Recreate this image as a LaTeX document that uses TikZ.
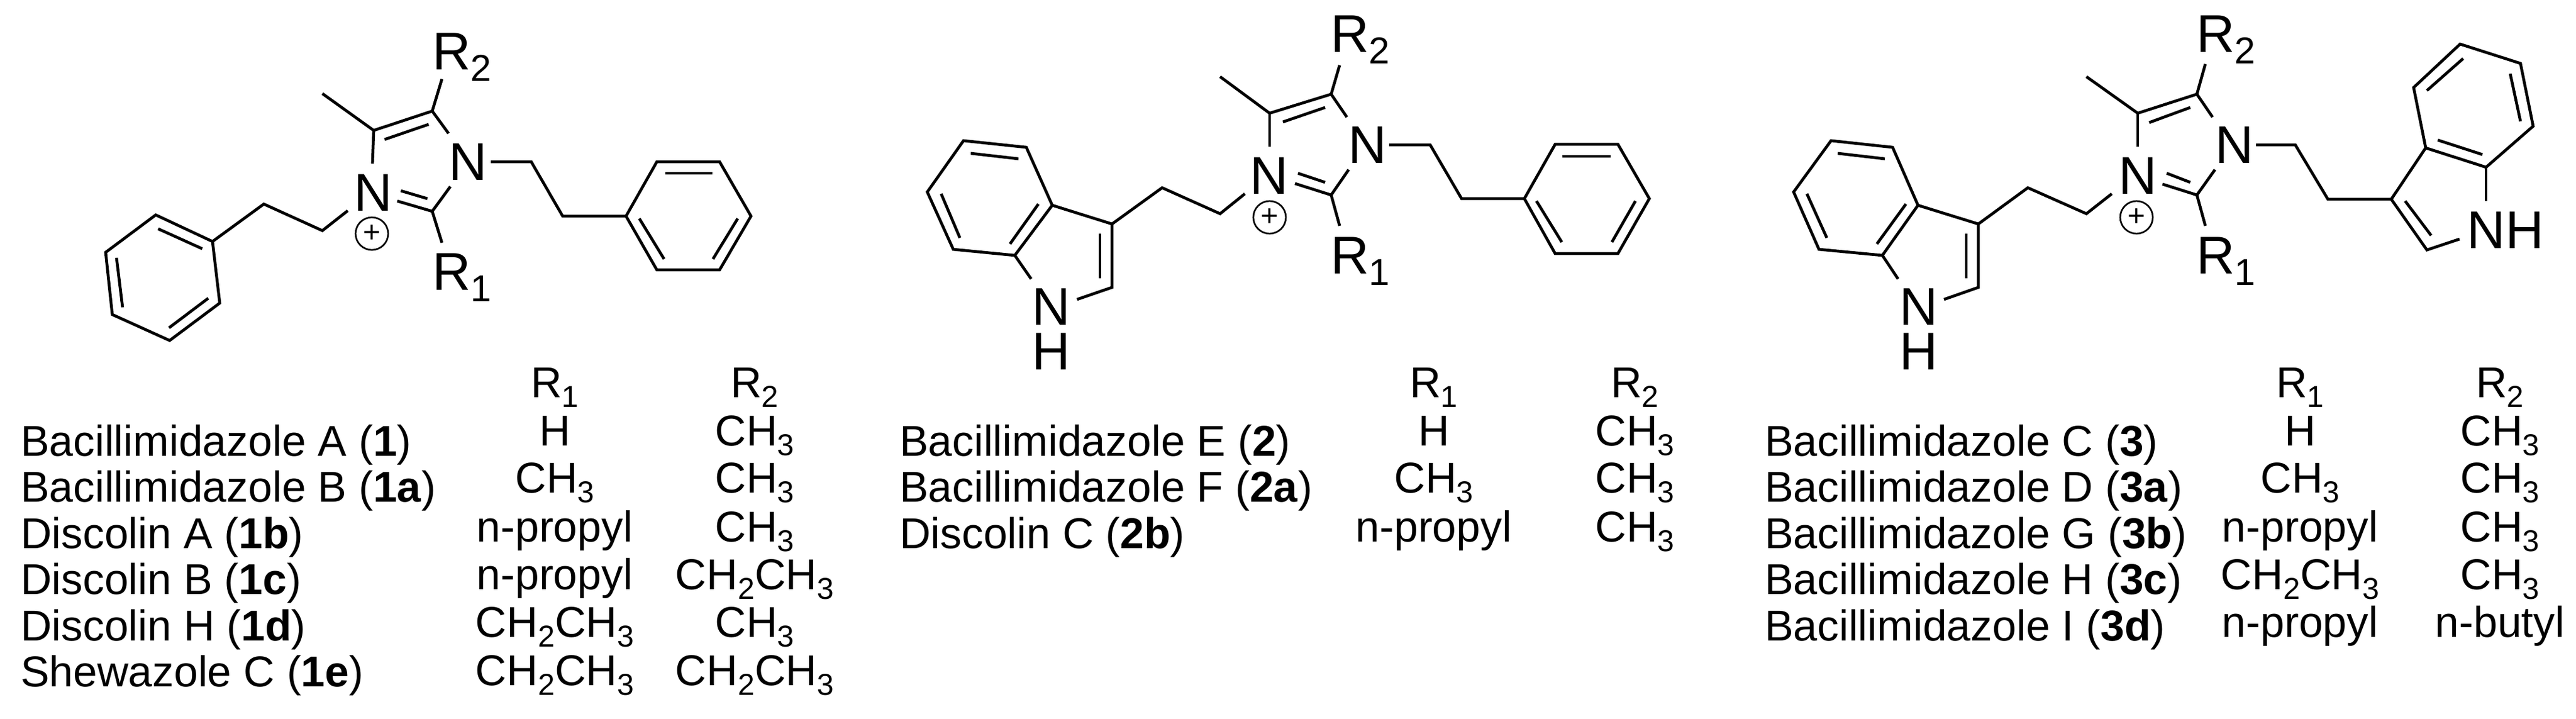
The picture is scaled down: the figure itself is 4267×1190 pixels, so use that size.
\documentclass[tikz,border=0pt]{standalone}
\usepackage{fontspec}
\setmainfont{Liberation Sans}
\newcommand{\tsub}[1]{\raisebox{-3.2pt}{\fontsize{10pt}{10pt}\selectfont #1}}
\newcommand{\lsub}[1]{\raisebox{-3.8pt}{\fontsize{12.4pt}{12.4pt}\selectfont #1}}
\newcommand{\chthree}{CH\tsub{3}}
\newcommand{\ethyl}{CH\tsub{2}CH\tsub{3}}
\tikzset{
  bond/.style={line width=0.95pt,line join=miter,line cap=butt,black},
  atom/.style={inner sep=0pt,outer sep=0pt,anchor=base,font=\fontsize{17.6pt}{17.6pt}\selectfont},
  rgroup/.style={inner sep=0pt,outer sep=0pt,anchor=base west,font=\fontsize{17.6pt}{17.6pt}\selectfont},
  charge/.style={draw,circle,line width=0.55pt,minimum size=10.8pt,inner sep=0pt,font=\fontsize{10pt}{10pt}\selectfont},
  namecell/.style={inner sep=0pt,outer sep=0pt,anchor=base west,font=\fontsize{14.3pt}{14.3pt}\selectfont},
  valcell/.style={inner sep=0pt,outer sep=0pt,anchor=base,font=\fontsize{14.3pt}{14.3pt}\selectfont},
}
\begin{document}
\begin{tikzpicture}[x=0.2pt,y=-0.2pt]
\useasboundingbox (0,0) rectangle (4267,1190);
% ===== molecule 1 =====
\node[atom] (aNa) at (775,298) {N};
\node[atom] (aNb) at (618,349) {N};
\node[charge] (aQ) at (616,387) {+};
\node[rgroup] (aRb) at (716,115) {R\lsub{2}};
\node[rgroup] (aRa) at (716,480) {R\lsub{1}};
\coordinate (aMe) at (534,155); \coordinate (aC4) at (619,216); \coordinate (aC5) at (716,184);
\coordinate (aC2) at (716,350); \coordinate (a4N) at (617,271); \coordinate (a5N) at (743,221);
\coordinate (a2N) at (746,309); \coordinate (a2P) at (658,333); \coordinate (aRbE) at (732,131);
\coordinate (aRaE) at (732,402); \coordinate (ad1) at (637,231); \coordinate (ad2) at (710,206);
\coordinate (ad3) at (664,316); \coordinate (ad4) at (708,329);
\draw[bond] (aMe)--(aC4)--(aC5)--(a5N);
\draw[bond] (aC4)--(a4N);
\draw[bond] (aC5)--(aRbE);
\draw[bond] (a2N)--(aC2)--(a2P);
\draw[bond] (aC2)--(aRaE);
\draw[bond] (ad1)--(ad2);
\draw[bond] (ad3)--(ad4);
\coordinate (aa) at (813,268); \coordinate (ab) at (880,268); \coordinate (ac) at (932,358);
\coordinate (p1) at (1037,358); \coordinate (p2) at (1088,268); \coordinate (p3) at (1192,268);
\coordinate (p4) at (1244,358); \coordinate (p5) at (1192,447); \coordinate (p6) at (1088,447);
\draw[bond] (aa)--(ab)--(ac)--(p1)--(p2)--(p3)--(p4)--(p5)--(p6)--(p1);
\coordinate (pa) at (1102,287); \coordinate (pb) at (1180,287);
\coordinate (pc) at (1059,362); \coordinate (pd) at (1100,429);
\coordinate (pe) at (1222,362); \coordinate (pf) at (1181,429);
\draw[bond] (pa)--(pb); \draw[bond] (pc)--(pd); \draw[bond] (pe)--(pf);
\coordinate (ba) at (576,349); \coordinate (bb) at (534,382); \coordinate (bc) at (437,338);
\coordinate (q1) at (352,400); \coordinate (q2) at (258,356); \coordinate (q3) at (175,418);
\coordinate (q4) at (186,521); \coordinate (q5) at (281,564); \coordinate (q6) at (364,502);
\draw[bond] (ba)--(bb)--(bc)--(q1)--(q2)--(q3)--(q4)--(q5)--(q6)--(q1);
\coordinate (qa) at (262,379); \coordinate (qb) at (335,412);
\coordinate (qc) at (193,427); \coordinate (qd) at (203,509);
\coordinate (qe) at (280,543); \coordinate (qf) at (345,494);
\draw[bond] (qa)--(qb); \draw[bond] (qc)--(qd); \draw[bond] (qe)--(qf);
% ===== molecule 2 =====
\node[atom] (cNa) at (2265,270) {N};
\node[atom] (cNb) at (2102,321) {N};
\node[charge] (cQ) at (2103,360) {+};
\node[rgroup] (cRb) at (2204,86) {R\lsub{2}};
\node[rgroup] (cRa) at (2204,453) {R\lsub{1}};
\coordinate (cMe) at (2021,127); \coordinate (cC4) at (2103,187.5); \coordinate (cC5) at (2205,156);
\coordinate (cC2) at (2205,323); \coordinate (c4N) at (2103,243); \coordinate (c5N) at (2231,194);
\coordinate (c2N) at (2234,281); \coordinate (c2P) at (2145,304); \coordinate (cRbE) at (2219,108);
\coordinate (cRaE) at (2219,374); \coordinate (cd1) at (2125,202); \coordinate (cd2) at (2195,178);
\coordinate (cd3) at (2150,287); \coordinate (cd4) at (2195,302);
\draw[bond] (cMe)--(cC4)--(cC5)--(c5N);
\draw[bond] (cC4)--(c4N);
\draw[bond] (cC5)--(cRbE);
\draw[bond] (c2N)--(cC2)--(c2P);
\draw[bond] (cC2)--(cRaE);
\draw[bond] (cd1)--(cd2);
\draw[bond] (cd3)--(cd4);
\coordinate (ca) at (2301,240); \coordinate (cb) at (2369,240); \coordinate (cc) at (2421,329);
\coordinate (r1) at (2525,329); \coordinate (r2) at (2576,239); \coordinate (r3) at (2680,239);
\coordinate (r4) at (2732,329); \coordinate (r5) at (2680,420); \coordinate (r6) at (2576,420);
\draw[bond] (ca)--(cb)--(cc)--(r1)--(r2)--(r3)--(r4)--(r5)--(r6)--(r1);
\coordinate (ra) at (2588,259); \coordinate (rb) at (2668,259);
\coordinate (rc) at (2545,333); \coordinate (rd) at (2587,401);
\coordinate (re) at (2709,333); \coordinate (rf) at (2670,401);
\draw[bond] (ra)--(rb); \draw[bond] (rc)--(rd); \draw[bond] (re)--(rf);
\node[atom] (cNi) at (1741,538) {N};
\node[atom] (cHi) at (1741,612) {H};
\coordinate (da) at (2062,321); \coordinate (db) at (2021,354); \coordinate (dc) at (1925,311);
\coordinate (s3) at (1842,371); \coordinate (s3a) at (1743,340); \coordinate (s7a) at (1681,423);
\coordinate (s2) at (1842,476); \coordinate (sN1) at (1708,462); \coordinate (sN2) at (1784,496);
\coordinate (s4) at (1700,244); \coordinate (s5) at (1596,233); \coordinate (s6) at (1536,318);
\coordinate (s7) at (1579,413);
\draw[bond] (da)--(db)--(dc)--(s3)--(s2)--(sN2);
\draw[bond] (s3)--(s3a)--(s4)--(s5)--(s6)--(s7)--(s7a)--(s3a);
\draw[bond] (s7a)--(sN1);
\coordinate (sa) at (1608,254); \coordinate (sb) at (1687,263);
\coordinate (sc) at (1559,321); \coordinate (sd) at (1590,394);
\coordinate (se) at (1720,338); \coordinate (sf) at (1673,404);
\coordinate (sg) at (1822,387); \coordinate (sh) at (1822,461);
\draw[bond] (sa)--(sb); \draw[bond] (sc)--(sd); \draw[bond] (se)--(sf); \draw[bond] (sg)--(sh);
% ===== molecule 3 =====
\node[atom] (eNa) at (3701,270) {N};
\node[atom] (eNb) at (3541,321) {N};
\node[charge] (eQ) at (3539,360) {+};
\node[rgroup] (eRb) at (3638,86) {R\lsub{2}};
\node[rgroup] (eRa) at (3638,453) {R\lsub{1}};
\coordinate (eMe) at (3456,127); \coordinate (eC4) at (3541,187.5); \coordinate (eC5) at (3639,156);
\coordinate (eC2) at (3639,323); \coordinate (e4N) at (3541,243); \coordinate (e5N) at (3665,194);
\coordinate (e2N) at (3669,281); \coordinate (e2P) at (3582,305); \coordinate (eRbE) at (3653,106);
\coordinate (eRaE) at (3653,374); \coordinate (ed1) at (3560,203); \coordinate (ed2) at (3628,178);
\coordinate (ed3) at (3589,287); \coordinate (ed4) at (3628,302);
\draw[bond] (eMe)--(eC4)--(eC5)--(e5N);
\draw[bond] (eC4)--(e4N);
\draw[bond] (eC5)--(eRbE);
\draw[bond] (e2N)--(eC2)--(e2P);
\draw[bond] (eC2)--(eRaE);
\draw[bond] (ed1)--(ed2);
\draw[bond] (ed3)--(ed4);
\node[atom] (eNH) at (4150,411) {NH};
\coordinate (ea) at (3737,240); \coordinate (eb) at (3802,240); \coordinate (ec) at (3856,330);
\coordinate (t3) at (3961,330); \coordinate (t3a) at (4018,245); \coordinate (t7a) at (4118,277);
\coordinate (t2) at (4020,414); \coordinate (tN1) at (4118,333); \coordinate (tN2) at (4074,396);
\coordinate (t4) at (3998,145); \coordinate (t5) at (4075,73); \coordinate (t6) at (4175,105);
\coordinate (t7) at (4196,209);
\draw[bond] (ea)--(eb)--(ec)--(t3)--(t2)--(tN2);
\draw[bond] (t3)--(t3a)--(t4)--(t5)--(t6)--(t7)--(t7a)--(t3a);
\draw[bond] (t7a)--(tN1);
\coordinate (ta) at (4038,232); \coordinate (tb) at (4112,256);
\coordinate (tc) at (4020,150); \coordinate (td) at (4080,97);
\coordinate (te) at (4158,122); \coordinate (tf) at (4175,201);
\coordinate (tg) at (3984,333); \coordinate (th) at (4027,390);
\draw[bond] (ta)--(tb); \draw[bond] (tc)--(td); \draw[bond] (te)--(tf); \draw[bond] (tg)--(th);
\node[atom] (eNi) at (3178,538) {N};
\node[atom] (eHi) at (3178,612) {H};
\coordinate (fa) at (3498,321); \coordinate (fb) at (3456,354); \coordinate (fc) at (3359,311);
\coordinate (u3) at (3277,371); \coordinate (u3a) at (3177,340); \coordinate (u7a) at (3118,423);
\coordinate (u2) at (3277,476); \coordinate (uN1) at (3144,462); \coordinate (uN2) at (3220,496);
\coordinate (u4) at (3135,244); \coordinate (u5) at (3033,233); \coordinate (u6) at (2971,318);
\coordinate (u7) at (3013,413);
\draw[bond] (fa)--(fb)--(fc)--(u3)--(u2)--(uN2);
\draw[bond] (u3)--(u3a)--(u4)--(u5)--(u6)--(u7)--(u7a)--(u3a);
\draw[bond] (u7a)--(uN1);
\coordinate (ua) at (3044,254); \coordinate (ub) at (3122,263);
\coordinate (uc) at (2993,321); \coordinate (ud) at (3026,394);
\coordinate (ue) at (3157,338); \coordinate (uf) at (3109,404);
\coordinate (ug) at (3257,387); \coordinate (uh) at (3257,461);
\draw[bond] (ua)--(ub); \draw[bond] (uc)--(ud); \draw[bond] (ue)--(uf); \draw[bond] (ug)--(uh);
% ===== table 1 =====
\node[namecell] (n11) at (34,755) {Bacillimidazole A (\textbf{1})};
\node[namecell] (n12) at (34,831) {Bacillimidazole B (\textbf{1a})};
\node[namecell] (n13) at (34,908) {Discolin A (\textbf{1b})};
\node[namecell] (n14) at (34,984) {Discolin B (\textbf{1c})};
\node[namecell] (n15) at (34,1061) {Discolin H (\textbf{1d})};
\node[namecell] (n16) at (34,1137) {Shewazole C (\textbf{1e})};
\node[valcell] (h11) at (919,658) {R\tsub{1}};
\node[valcell] (h12) at (1250,658) {R\tsub{2}};
\node[valcell] (v11) at (919,738) {H};
\node[valcell] (w11) at (1250,738) {\chthree};
\node[valcell] (v12) at (919,816) {\chthree};
\node[valcell] (w12) at (1250,816) {\chthree};
\node[valcell] (v13) at (919,897) {n-propyl};
\node[valcell] (w13) at (1250,897) {\chthree};
\node[valcell] (v14) at (919,976) {n-propyl};
\node[valcell] (w14) at (1250,976) {\ethyl};
\node[valcell] (v15) at (919,1055) {\ethyl};
\node[valcell] (w15) at (1250,1055) {\chthree};
\node[valcell] (v16) at (919,1135) {\ethyl};
\node[valcell] (w16) at (1250,1135) {\ethyl};
% ===== table 2 =====
\node[namecell] (n21) at (1490,755) {Bacillimidazole E (\textbf{2})};
\node[namecell] (n22) at (1490,831) {Bacillimidazole F (\textbf{2a})};
\node[namecell] (n23) at (1490,908) {Discolin C (\textbf{2b})};
\node[valcell] (h21) at (2375,658) {R\tsub{1}};
\node[valcell] (h22) at (2708,658) {R\tsub{2}};
\node[valcell] (v21) at (2375,738) {H};
\node[valcell] (w21) at (2708,738) {\chthree};
\node[valcell] (v22) at (2375,816) {\chthree};
\node[valcell] (w22) at (2708,816) {\chthree};
\node[valcell] (v23) at (2375,897) {n-propyl};
\node[valcell] (w23) at (2708,897) {\chthree};
% ===== table 3 =====
\node[namecell] (n31) at (2923,755) {Bacillimidazole C (\textbf{3})};
\node[namecell] (n32) at (2923,831) {Bacillimidazole D (\textbf{3a})};
\node[namecell] (n33) at (2923,908) {Bacillimidazole G (\textbf{3b})};
\node[namecell] (n34) at (2923,984) {Bacillimidazole H (\textbf{3c})};
\node[namecell] (n35) at (2923,1061) {Bacillimidazole I (\textbf{3d})};
\node[valcell] (h31) at (3810,658) {R\tsub{1}};
\node[valcell] (h32) at (4141,658) {R\tsub{2}};
\node[valcell] (v31) at (3810,738) {H};
\node[valcell] (w31) at (4141,738) {\chthree};
\node[valcell] (v32) at (3810,816) {\chthree};
\node[valcell] (w32) at (4141,816) {\chthree};
\node[valcell] (v33) at (3810,897) {n-propyl};
\node[valcell] (w33) at (4141,897) {\chthree};
\node[valcell] (v34) at (3810,976) {\ethyl};
\node[valcell] (w34) at (4141,976) {\chthree};
\node[valcell] (v35) at (3810,1055) {n-propyl};
\node[valcell] (w35) at (4141,1055) {n-butyl};
\end{tikzpicture}
\end{document}
